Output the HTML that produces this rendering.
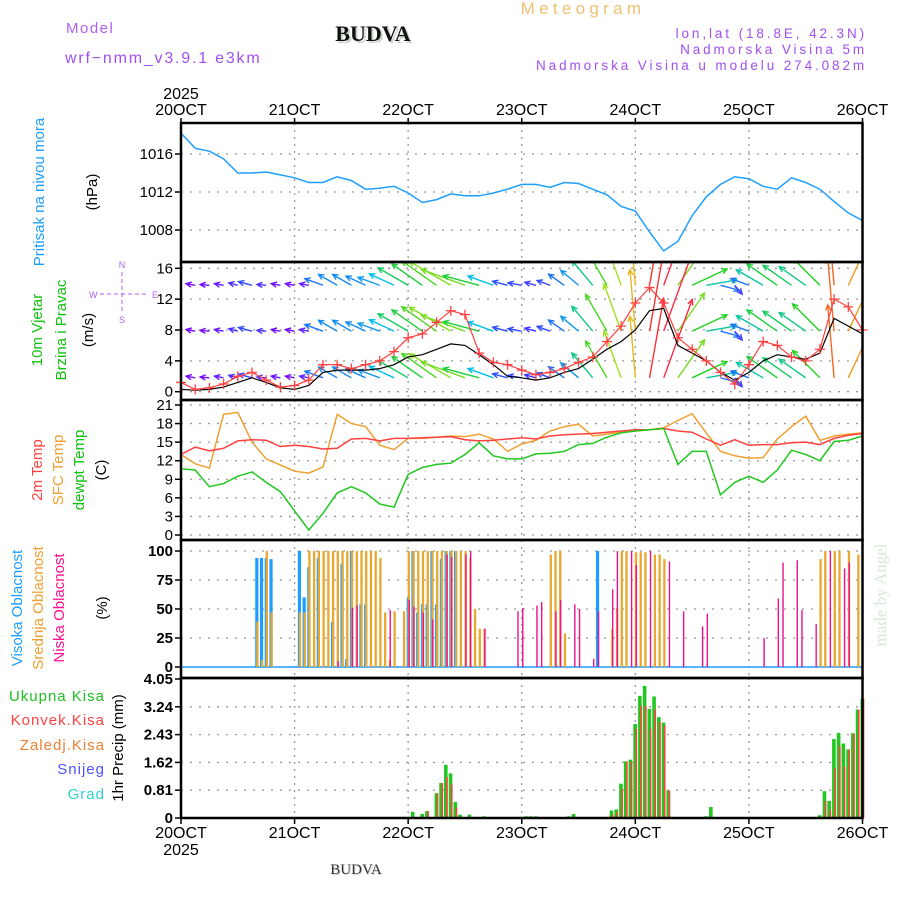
<!DOCTYPE html>
<html><head><meta charset="utf-8"><style>
html,body{margin:0;padding:0;background:#fff;}
svg{display:block;font-family:"Liberation Sans",sans-serif;}
</style></head><body>
<svg id="chart" width="900" height="900" viewBox="0 0 900 900">
<g>
<text x="66" y="33" font-size="15" fill="#b060f0" letter-spacing="1.5">Model</text>
<text x="65" y="63" font-size="16" fill="#a050f0" letter-spacing="1.8">wrf−nmm_v3.9.1 e3km</text>
<text x="375" y="43" font-size="22" font-weight="bold" font-family="Liberation Serif,serif" fill="#c8d8c8" text-anchor="middle">BUDVA</text>
<text x="373" y="41" font-size="22" font-weight="bold" font-family="Liberation Serif,serif" fill="#111" text-anchor="middle">BUDVA</text>
<text x="583" y="14" font-size="17" fill="#f0c070" text-anchor="middle" letter-spacing="4.3">Meteogram</text>
<text x="867" y="38" font-size="13.5" fill="#a050f0" text-anchor="end" letter-spacing="2.9">lon,lat (18.8E, 42.3N)</text>
<text x="867" y="54" font-size="13.5" fill="#a050f0" text-anchor="end" letter-spacing="2.9">Nadmorska Visina 5m</text>
<text x="867" y="70" font-size="13.5" fill="#a050f0" text-anchor="end" letter-spacing="2.9">Nadmorska Visina u modelu 274.082m</text>
</g>
<g>
<text transform="translate(44,192) rotate(-90)" font-size="15" fill="#1e9fff" text-anchor="middle">Pritisak na nivou mora</text>
<text transform="translate(97,192) rotate(-90)" font-size="15" fill="#000" text-anchor="middle">(hPa)</text>
<text transform="translate(42,330) rotate(-90)" font-size="15" fill="#10c010" text-anchor="middle">10m Vjetar</text>
<text transform="translate(66,330) rotate(-90)" font-size="15" fill="#10c010" text-anchor="middle">Brzina i Pravac</text>
<text transform="translate(93,330) rotate(-90)" font-size="15" fill="#000" text-anchor="middle">(m/s)</text>
<g fill="#b060f0" stroke="#b060f0" font-size="9">
<text x="122" y="268" stroke="none" text-anchor="middle">N</text>
<text x="122" y="323" stroke="none" text-anchor="middle">S</text>
<text x="89" y="298" stroke="none">W</text>
<text x="152" y="298" stroke="none">E</text>
<line x1="122" y1="272" x2="122" y2="313" stroke-width="1" stroke-dasharray="4,3"/>
<line x1="100" y1="294" x2="146" y2="294" stroke-width="1" stroke-dasharray="4,3"/>
</g>
<text transform="translate(42,470) rotate(-90)" font-size="15" fill="#ff4040" text-anchor="middle">2m Temp</text>
<text transform="translate(63,470) rotate(-90)" font-size="15" fill="#f0a030" text-anchor="middle">SFC Temp</text>
<text transform="translate(84,470) rotate(-90)" font-size="15" fill="#10c010" text-anchor="middle">dewpt Temp</text>
<text transform="translate(106,470) rotate(-90)" font-size="15" fill="#000" text-anchor="middle">(C)</text>
<text transform="translate(22,608) rotate(-90)" font-size="15" fill="#1e9fff" text-anchor="middle">Visoka Oblacnost</text>
<text transform="translate(43,608) rotate(-90)" font-size="15" fill="#f0a030" text-anchor="middle">Srednja Oblacnost</text>
<text transform="translate(64,608) rotate(-90)" font-size="15" fill="#ff1090" text-anchor="middle">Niska Oblacnost</text>
<text transform="translate(107,608) rotate(-90)" font-size="15" fill="#000" text-anchor="middle">(%)</text>
<text x="105" y="701" font-size="15" fill="#20c020" text-anchor="end" letter-spacing="1">Ukupna  Kisa</text>
<text x="105" y="725" font-size="15" fill="#ff4040" text-anchor="end" letter-spacing="1">Konvek.Kisa</text>
<text x="105" y="750" font-size="15" fill="#f08030" text-anchor="end" letter-spacing="1">Zaledj.Kisa</text>
<text x="105" y="774" font-size="15" fill="#5050ff" text-anchor="end" letter-spacing="1">Snijeg</text>
<text x="105" y="799" font-size="15" fill="#30d0d0" text-anchor="end" letter-spacing="1">Grad</text>
<text transform="translate(123,748) rotate(-90)" font-size="15" fill="#000" text-anchor="middle">1hr Precip (mm)</text>
</g>
<g id="plot"></g>
<text x="357" y="875" font-size="15" font-family="Liberation Serif,serif" fill="#d0d0d0" text-anchor="middle">BUDVA</text>
<text x="356" y="874" font-size="15" font-family="Liberation Serif,serif" fill="#333" text-anchor="middle">BUDVA</text>
<text transform="translate(886,595) rotate(-90)" font-size="17" font-family="Liberation Serif,serif" fill="#d8e6d8" text-anchor="middle">made by Angel</text>
</svg>
<script>
// ---- data (3-hourly from 20OCT 00UTC, 49 values) ----
const dayLabels = ["20OCT","21OCT","22OCT","23OCT","24OCT","25OCT","26OCT"];
const pressure = [1018.2,1016.6,1016.3,1015.5,1014.0,1014.0,1014.1,1013.8,1013.5,1013.0,1013.0,1013.6,1013.2,1012.3,1012.4,1012.6,1011.9,1010.9,1011.2,1011.8,1011.6,1011.6,1011.9,1012.3,1012.8,1012.8,1012.5,1013.0,1012.9,1012.3,1011.7,1010.5,1010.0,1007.8,1005.8,1006.8,1009.5,1011.5,1012.8,1013.6,1013.4,1012.6,1012.3,1013.5,1013.0,1012.3,1011.0,1009.8,1009.0];
const windGust = [1.2,0.3,0.5,1.0,2.0,2.5,1.5,0.6,0.8,1.5,3.5,3.5,3.0,3.5,4.0,5.2,7.0,7.5,9.0,10.5,10.0,5.0,3.8,3.5,2.8,2.2,2.5,3.0,3.8,4.5,6.5,8.5,11.5,13.5,11.5,7.0,5.5,4.0,2.5,1.0,3.5,6.5,6.0,4.5,4.0,5.5,12.0,11.0,8.0];
const windSpeed = [0.3,0.2,0.3,0.6,1.2,1.8,1.2,0.5,0.3,0.8,2.5,2.8,2.8,2.8,3.0,3.5,4.5,4.8,5.5,6.2,6.0,4.8,3.5,2.0,1.8,1.5,1.8,2.5,3.0,4.2,5.5,6.5,8.0,10.5,10.8,6.0,5.0,4.0,2.5,1.5,2.5,4.0,4.8,4.5,4.2,5.0,9.5,8.5,7.5];
const windDir = [95,100,95,100,105,105,95,100,100,100,110,120,120,115,110,115,120,125,125,120,110,105,110,105,100,105,110,125,130,140,150,160,175,190,200,215,245,260,285,320,110,120,125,125,125,135,175,205,210];
const windRowLevels = [13.8,7.85,1.8];
const temp2m = [13.0,14.2,13.6,14.0,15.2,15.4,15.3,14.3,14.5,14.3,13.9,14.0,15.5,15.6,15.2,15.6,15.6,15.7,15.8,15.9,15.4,15.2,15.3,15.5,15.7,15.5,16.0,16.2,16.3,16.4,16.6,16.8,17.0,17.0,17.2,16.8,16.6,15.5,14.5,15.4,14.5,14.6,14.6,14.9,15.0,14.6,15.6,16.1,16.4];
const tempSfc = [13.0,11.5,10.8,19.5,19.8,15.0,12.3,11.3,10.3,10.0,11.0,19.5,18.0,17.5,14.5,13.8,15.6,15.6,15.8,16.0,15.9,16.3,15.5,13.5,14.7,15.3,16.8,17.5,17.9,16.0,16.3,16.6,16.8,17.0,17.3,18.5,19.6,16.5,13.5,12.8,12.4,12.5,15.5,17.5,19.2,15.3,16.0,16.3,16.5];
const dewpt = [10.7,10.5,7.8,8.3,9.5,10.2,8.5,7.0,3.9,0.8,3.5,6.8,7.8,6.8,5.0,4.5,9.8,10.9,11.4,11.6,13.0,14.9,12.8,12.3,12.3,13.1,13.2,13.5,14.6,14.8,15.8,16.5,16.8,17.0,17.2,11.4,13.5,13.5,6.5,8.5,9.5,8.5,10.5,13.7,13.0,12.0,15.1,15.3,16.0];
// cloud cover (hour index, %)
const highCloudHours = [16,17,18,19,25,26,27,29,32,34,35,36,38,39,48,49,50,51,52,53,54,55,56,57,58,88];
const highCloudVals  = [94,94,94,93,100,60,86,94,39,89,7,100,54,54,60,100,47,54,54,100,54,93,100,100,100,100];
const midCloudHours = [16,17,18,19,25,26,27,28,29,30,31,32,33,34,35,36,37,38,39,40,41,42,43,44,45,47,48,49,50,51,52,53,54,55,56,57,58,59,60,61,62,63,64,78,79,80,81,91,92,93,94,96,97,98,100,101,102,135,136,138,139,141,143];
const midCloudVals  = [39,6,100,47,47,47,100,100,100,100,100,100,100,100,100,100,100,100,100,100,100,94,47,6,48,48,100,100,100,100,100,100,100,100,100,100,100,100,100,94,50,33,33,97,100,100,29,33,51,100,100,99,99,99,97,97,93,93,100,100,100,100,97];
const lowCloudHours = [33,36,37,44,48,49,51,53,56,57,60,61,64,71,72,75,76,79,80,83,84,87,88,91,92,95,96,99,103,106,110,111,123,126,127,130,131,134,137,140,141];
const lowCloudVals  = [5,51,53,49,58,52,47,41,97,95,97,100,33,48,51,53,56,48,58,54,50,7,48,67,100,100,88,100,91,48,35,46,25,59,90,92,49,37,100,85,90];
// precipitation (hour index, mm)
const precipHours = [49,51,52,54,55,56,57,58,59,61,64,73,74,75,82,83,91,92,93,94,95,96,97,98,99,100,101,102,103,111,112,135,136,137,138,139,140,141,142,143,144];
const totalPrecip = [0.18,0.12,0.2,0.72,1.02,1.55,1.3,0.47,0.1,0.1,0.05,0.05,0.05,0.05,0.05,0.12,0.22,0.25,1.0,1.65,1.7,2.74,3.56,3.85,3.18,3.54,2.94,2.78,0.8,0.05,0.32,0.08,0.78,0.5,2.3,2.48,2.17,2.0,2.47,3.16,3.47];
const convPrecip = [0.0,0.0,0.2,0.72,1.02,1.2,1.0,0.3,0.0,0.0,0.0,0.0,0.0,0.0,0.0,0.0,0.1,0.2,0.85,1.65,1.65,2.6,3.27,3.27,2.6,3.16,2.8,2.7,0.8,0.0,0.0,0.0,0.5,0.25,1.45,2.1,1.5,2.0,2.45,3.16,3.47];

// ---- axes ----
const X0 = 181, X1 = 862.5, HOURS = 144;
function xH(h){ return X0 + h * (X1 - X0) / HOURS; }
function xIdx(i){ return xH(i * 3); }
function mkScale(v0, y0, v1, y1){ return v => y0 + (v - v0) * (y1 - y0) / (v1 - v0); }
const yP = mkScale(1016, 154, 1008, 230);
const yW = mkScale(0, 391.7, 16, 268.3);
const yT = mkScale(0, 535, 21, 405);
const yC = mkScale(0, 667, 100, 551);
const yR = mkScale(0, 818, 4.05, 679);
const panels = [
 {name:"pressure", top:123, bot:262, ticks:[1008,1012,1016], sc:yP, fmt:v=>String(v)},
 {name:"wind", top:262, bot:400, ticks:[0,4,8,12,16], sc:yW, fmt:v=>String(v)},
 {name:"temperature", top:400, bot:540, ticks:[0,3,6,9,12,15,18,21], sc:yT, fmt:v=>String(v)},
 {name:"cloud", top:540, bot:678, ticks:[0,25,50,75,100], sc:yC, fmt:v=>String(v)},
 {name:"precip", top:678, bot:818, ticks:[0,0.81,1.62,2.43,3.24,4.05], sc:yR, fmt:v=>v===0?"0":v.toFixed(2)}
];
const NS = "http://www.w3.org/2000/svg";
const plot = document.getElementById("plot");
function el(tag, attrs, parent){
  const e = document.createElementNS(NS, tag);
  for (const k in attrs) e.setAttribute(k, attrs[k]);
  (parent || plot).appendChild(e);
  return e;
}

panels.forEach(p => {
  const g = el("g", {});
  
  
  for (let d = 1; d < dayLabels.length - 1; d++) {
    const gl = el("line", {x1:xH(d*24), x2:xH(d*24), y1:p.top, y2:p.bot, stroke:"#999", "stroke-width":1.3, "stroke-dasharray":"2,5"}, g);
    
    
  }
  p.ticks.forEach(t => {
    const y = p.sc(t);
    if (y > p.top + 3 && y < p.bot - 3) {
      const hl = el("line", {x1:X0, x2:X1, y1:y, y2:y, stroke:"#999", "stroke-width":1.3, "stroke-dasharray":"2,7"}, g);
      
      
    }
    const tk = el("line", {x1:X0-6, x2:X0, y1:y, y2:y, stroke:"#000", "stroke-width":1.5}, g);
    
    
    const tl = el("text", {x:X0-8, y:y+5, "font-size":15, "text-anchor":"end", fill:"#000", "font-weight": p.name==="precip"||p.name==="cloud" ? "bold":"normal"}, g);
    tl.textContent = p.fmt(t);
    
    
  });
  p.g = g;
});

// pressure line
{
  const pts = pressure.map((v,i)=>xIdx(i).toFixed(1)+","+yP(v).toFixed(1)).join(" ");
  const l = el("polyline", {points:pts, fill:"none", stroke:"#1e9fff", "stroke-width":1.5});
  
  
}

// wind
{
  const clip = el("clipPath", {id:"windclip"});
  el("rect", {x:X0, y:263, width:X1-X0, height:136}, clip);
  const wg = el("g", {"clip-path":"url(#windclip)"});
  
  
  const stops = [[0,[128,0,255]],[2,[40,80,255]],[3.5,[0,190,230]],[5,[30,210,30]],[6.5,[160,225,30]],[7.5,[230,210,30]],[9,[240,130,30]],[10.5,[255,50,50]],[12,[255,0,130]]];
  function col(s){
    for (let i=0;i<stops.length-1;i++){
      const a=stops[i], b=stops[i+1];
      if (s<=b[0]){ const t=Math.max(0,(s-a[0])/(b[0]-a[0])); return "rgb("+a[1].map((c,k)=>Math.round(c+(b[1][k]-c)*t)).join(",")+")"; }
    }
    return "rgb(255,0,130)";
  }
  const pxPerUnit = yW(0) - yW(1);
  windRowLevels.forEach(lv => {
    const by = yW(lv);
    windDir.forEach((d,i) => {
      const s = Math.max(windSpeed[i], 1.2);
      const L = s * pxPerUnit;
      const r = d * Math.PI/180;
      const dx = -Math.sin(r)*L, dy = Math.cos(r)*L;
      const x0 = xIdx(i), x1 = x0+dx, y1 = by+dy;
      const c = col(windSpeed[i]);
      const a = el("g", {stroke:c, "stroke-width":1.4, fill:"none"}, wg);
      
      
      el("line", {x1:x0, y1:by, x2:x1, y2:y1}, a);
      const ang = Math.atan2(dy, dx), hl = 6;
      el("polyline", {points:(x1-hl*Math.cos(ang-0.45))+","+(y1-hl*Math.sin(ang-0.45))+" "+x1+","+y1+" "+(x1-hl*Math.cos(ang+0.45))+","+(y1-hl*Math.sin(ang+0.45))}, a);
    });
  });
  const bl = el("polyline", {points:windSpeed.map((v,i)=>xIdx(i).toFixed(1)+","+yW(v).toFixed(1)).join(" "), fill:"none", stroke:"#000", "stroke-width":1.2});
  
  
  const rl = el("polyline", {points:windGust.map((v,i)=>xIdx(i).toFixed(1)+","+yW(v).toFixed(1)).join(" "), fill:"none", stroke:"#ff4040", "stroke-width":1.2});
  
  
  windGust.forEach((v,i) => {
    const x = xIdx(i), y = yW(v);
    const m = el("path", {d:"M"+(x-5)+","+y+"h10M"+x+","+(y-5)+"v10", stroke:"#ff4040", "stroke-width":1.3});
    
    
  });
}

// temperatures
[[tempSfc,"#f0a030","sfc-temp-line"],[temp2m,"#ff4040","temp-2m-line"],[dewpt,"#20c820","dewpoint-line"]].forEach(([arr,c,n]) => {
  const l = el("polyline", {points:arr.map((v,i)=>xIdx(i).toFixed(1)+","+yT(v).toFixed(1)).join(" "), fill:"none", stroke:c, "stroke-width":1.5});
  
  
});

// clouds
{
  const base = el("line", {x1:X0, x2:X1, y1:yC(0), y2:yC(0), stroke:"#1e9fff", "stroke-width":1.5});
  
  
  highCloudHours.forEach((h,i) => {
    const b = el("rect", {x:xH(h)-1.5, y:yC(highCloudVals[i]), width:3.2, height:yC(0)-yC(highCloudVals[i]), fill:"#1e9fff"});
    
    
  });
  midCloudHours.forEach((h,i) => {
    const b = el("rect", {x:xH(h)-0.5, y:yC(midCloudVals[i]), width:2.3, height:yC(0)-yC(midCloudVals[i]), fill:"#e8a830"});
    
    
  });
  lowCloudHours.forEach((h,i) => {
    const b = el("rect", {x:xH(h)+0.3, y:yC(lowCloudVals[i]), width:1.4, height:yC(0)-yC(lowCloudVals[i]), fill:"#f0108a"});
    
    
  });
}

// precipitation
precipHours.forEach((h,i) => {
  const b = el("rect", {x:xH(h)-2, y:yR(totalPrecip[i]), width:3.6, height:yR(0)-yR(totalPrecip[i]), fill:"#20c820"});
  
  
  if (convPrecip[i] > 0) {
    const c = el("rect", {x:xH(h)+0.2, y:yR(convPrecip[i]), width:1.6, height:yR(0)-yR(convPrecip[i]), fill:"#ff4040"});
    
    
  }
});

// frames
panels.forEach(p => {
  const r = el("rect", {x:X0, y:p.top, width:X1-X0, height:p.bot-p.top, fill:"none", stroke:"#000", "stroke-width":2.5});
  
  
});
// x labels
dayLabels.forEach((d,i) => {
  const x = xH(i*24);
  const t1 = el("text", {x:x, y:115, "font-size":16, "text-anchor":"middle", fill:"#000"});
  t1.textContent = d;
  
  
  const t2 = el("text", {x:x, y:838, "font-size":16, "text-anchor":"middle", fill:"#000"});
  t2.textContent = d;
  
  
  const k1 = el("line", {x1:x, x2:x, y1:118, y2:123, stroke:"#000", "stroke-width":1.5});
  
  
  const k2 = el("line", {x1:x, x2:x, y1:818, y2:824, stroke:"#000", "stroke-width":1.5});
  
  
});
{
  const y1 = el("text", {x:X0, y:99, "font-size":16, "text-anchor":"middle", fill:"#000"});
  y1.textContent = "2025";
  
  
  const y2 = el("text", {x:X0, y:855, "font-size":16, "text-anchor":"middle", fill:"#000"});
  y2.textContent = "2025";
  
  
}
</script>
</body></html>
